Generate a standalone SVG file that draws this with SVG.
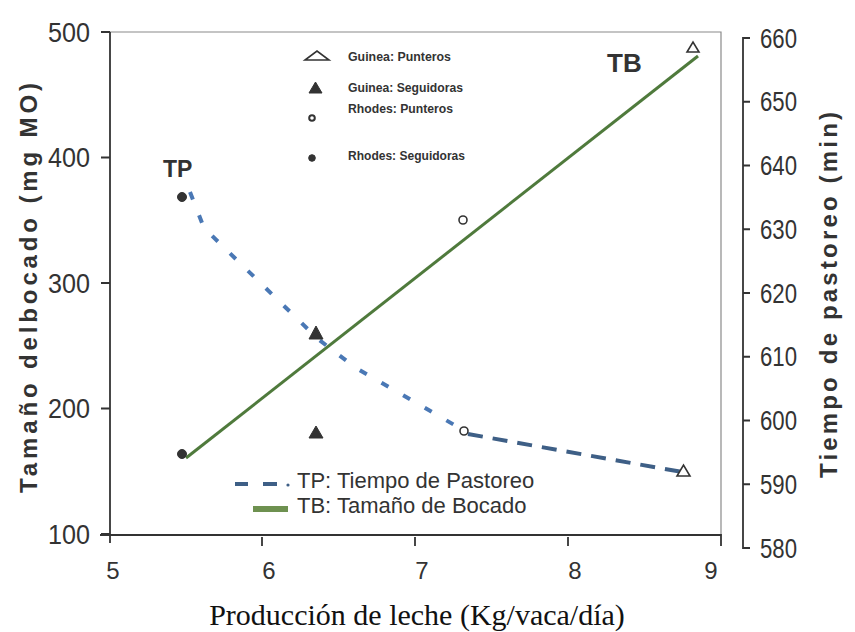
<svg xmlns="http://www.w3.org/2000/svg" width="855" height="632" viewBox="0 0 855 632">
<style>
.ax{stroke:#333;stroke-width:1.8;fill:none}
.bd{stroke:#8a8a8a;stroke-width:1.2;fill:none}
.num{font-family:"Liberation Sans",Arial,sans-serif;font-size:27px;fill:#333}
.xn{font-family:"Liberation Sans",Arial,sans-serif;font-size:24px;fill:#333;text-anchor:middle}
.ttl{font-family:"Liberation Sans",Arial,sans-serif;font-weight:bold;font-size:24px;fill:#333;text-anchor:middle}
.leg{font-family:"Liberation Sans",Arial,sans-serif;font-weight:bold;font-size:13px;fill:#333}
.leg2{font-family:"Liberation Sans",Arial,sans-serif;font-size:22px;fill:#333}
.lab{font-family:"Liberation Sans",Arial,sans-serif;font-weight:bold;fill:#333}
.mk{fill:#333;stroke:#333;stroke-width:1}
.mo{fill:#fff;stroke:#333;stroke-width:1.6}
</style>
<rect width="855" height="632" fill="#fff"/>
<g id="axes">
  <path class="bd" d="M110,32 H721 V536"/>
  <path class="ax" d="M110,32 V543 M100,535 H721 V546"/>
  <path class="ax" d="M101,32 H110 M101,157.5 H110 M101,283 H110 M101,408.5 H110 M101,534 H110"/>
  <path class="ax" d="M262,537 V546 M415,537 V546 M568,537 V546"/>
  <path class="ax" d="M750,38 H743 V548 H750 M743,101.75 H750 M743,165.5 H750 M743,229.25 H750 M743,293 H750 M743,356.75 H750 M743,420.5 H750 M743,484.25 H750"/>
</g>
<g id="left-labels">
  <text class="num" x="48" y="41.5" textLength="42" lengthAdjust="spacingAndGlyphs">500</text>
  <text class="num" x="48" y="167" textLength="42" lengthAdjust="spacingAndGlyphs">400</text>
  <text class="num" x="48" y="292.5" textLength="42" lengthAdjust="spacingAndGlyphs">300</text>
  <text class="num" x="48" y="418" textLength="42" lengthAdjust="spacingAndGlyphs">200</text>
  <text class="num" x="48" y="543.5" textLength="42" lengthAdjust="spacingAndGlyphs">100</text>
</g>
<g id="right-labels">
  <text class="num" x="760" y="47.5" textLength="37" lengthAdjust="spacingAndGlyphs">660</text>
  <text class="num" x="760" y="111.25" textLength="37" lengthAdjust="spacingAndGlyphs">650</text>
  <text class="num" x="760" y="175" textLength="37" lengthAdjust="spacingAndGlyphs">640</text>
  <text class="num" x="760" y="238.75" textLength="37" lengthAdjust="spacingAndGlyphs">630</text>
  <text class="num" x="760" y="302.5" textLength="37" lengthAdjust="spacingAndGlyphs">620</text>
  <text class="num" x="760" y="366.25" textLength="37" lengthAdjust="spacingAndGlyphs">610</text>
  <text class="num" x="760" y="430" textLength="37" lengthAdjust="spacingAndGlyphs">600</text>
  <text class="num" x="760" y="493.75" textLength="37" lengthAdjust="spacingAndGlyphs">590</text>
  <text class="num" x="760" y="557.5" textLength="37" lengthAdjust="spacingAndGlyphs">580</text>
</g>
<g id="x-labels">
  <text class="xn" x="113" y="579">5</text>
  <text class="xn" x="269" y="579">6</text>
  <text class="xn" x="422" y="579">7</text>
  <text class="xn" x="575" y="579">8</text>
  <text class="xn" x="711" y="579">9</text>
</g>
<g id="titles">
  <text class="ttl" transform="translate(37,288) rotate(-90)" textLength="410" lengthAdjust="spacing">Tamaño delbocado (mg MO)</text>
  <text class="ttl" transform="translate(837,295) rotate(-90)" textLength="366" lengthAdjust="spacing">Tiempo de pastoreo (min)</text>
  <text x="417" y="625" font-family="'Liberation Serif','Times New Roman',serif" font-size="30" fill="#111" text-anchor="middle">Producción de leche (Kg/vaca/día)</text>
</g>
<g id="connectors">
  <path d="M186,458 L698,56" stroke="#4f7a3c" stroke-width="3" fill="none"/>
  <path d="M190,192 L204,228 L318,339 L356,368 L463,430" stroke="#4a78b5" stroke-width="4" fill="none" stroke-dasharray="8 17"/>
  <path d="M468,434 L682,472" stroke="#3e5f86" stroke-width="4" fill="none" stroke-dasharray="15 10"/>
</g>
<g id="points">
  <circle class="mk" cx="182" cy="197" r="4.5"/>
  <circle class="mk" cx="182" cy="454" r="4.5"/>
  <polygon class="mk" points="309,339 323,339 316,326"/>
  <polygon class="mk" points="309,438 323,438 316,426"/>
  <circle class="mo" cx="463" cy="220" r="4"/>
  <circle class="mo" cx="464" cy="431" r="4"/>
  <polygon class="mo" points="687,52 699,52 693,42"/>
  <polygon class="mo" points="677,476 690,476 683.5,465"/>
</g>
<g id="point-labels">
  <text class="lab" x="163" y="177" font-size="23">TP</text>
  <text class="lab" x="607" y="72" font-size="26">TB</text>
</g>
<g id="legend-markers">
  <polygon class="mo" points="305,60 329,60 317,51"/>
  <text class="leg" x="348" y="61" textLength="103" lengthAdjust="spacingAndGlyphs">Guinea: Punteros</text>
  <polygon class="mk" points="309,93 322,93 315.5,82"/>
  <text class="leg" x="348" y="92" textLength="115" lengthAdjust="spacingAndGlyphs">Guinea: Seguidoras</text>
  <circle cx="312" cy="118" r="2.8" fill="#fff" stroke="#333" stroke-width="2"/>
  <text class="leg" x="348" y="113" textLength="105" lengthAdjust="spacingAndGlyphs">Rhodes: Punteros</text>
  <circle class="mk" cx="312" cy="158" r="3.3"/>
  <text class="leg" x="348" y="160" textLength="117" lengthAdjust="spacingAndGlyphs">Rhodes: Seguidoras</text>
</g>
<g id="legend-lines">
  <path d="M235,484 H248 M263,484 H277" stroke="#3e5f86" stroke-width="4" fill="none"/>
  <circle cx="288" cy="485" r="1.6" fill="#3e5f86"/>
  <text class="leg2" x="297" y="488">TP: Tiempo de Pastoreo</text>
  <rect x="253" y="506" width="35" height="6" fill="#6e9150"/>
  <text class="leg2" x="297" y="513">TB: Tamaño de Bocado</text>
</g>
</svg>
